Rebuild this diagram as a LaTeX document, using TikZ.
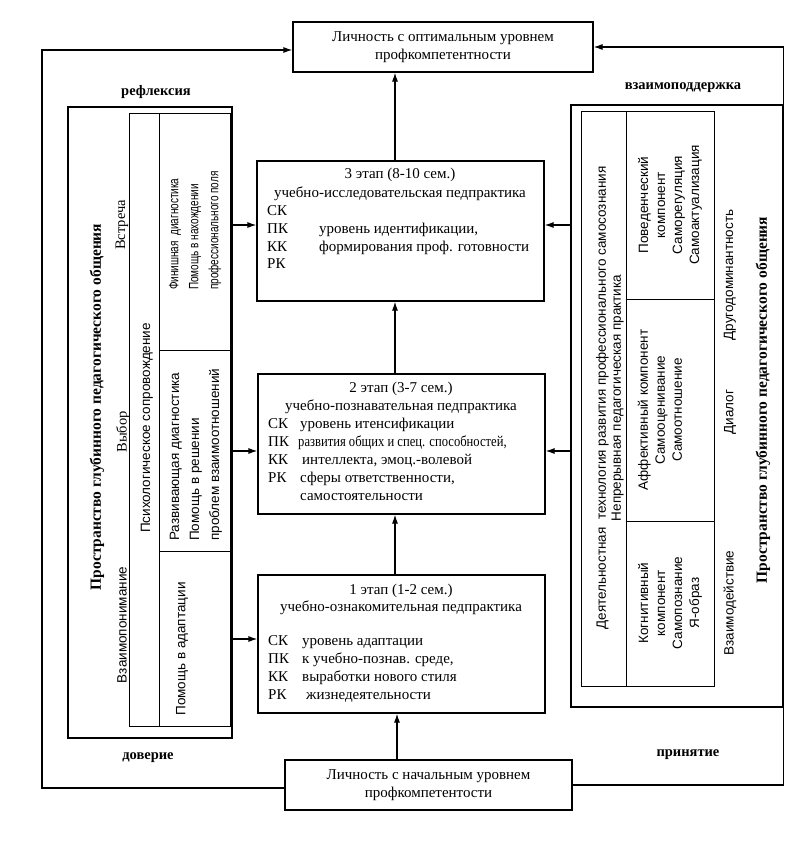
\documentclass[tikz,border=0pt]{standalone}
\usepackage{fontspec}
\setmainfont{Liberation Serif}
\setsansfont{Liberation Sans}
\usetikzlibrary{arrows.meta}
\begin{document}
\begin{tikzpicture}[x=1pt,y=-1pt,
  box/.style={draw, line width=1.2pt, inner sep=0pt},
  ln/.style={line width=1.2pt},
  thin/.style={line width=0.9pt},
  arr/.style={line width=1.2pt, -{Latex[length=9pt,width=6pt]}},
  st/.style={inner sep=0pt, font=\fontsize{15}{18}\selectfont},
  sf/.style={inner sep=0pt, font=\sffamily\fontsize{13.5}{17}\selectfont},
  sr/.style={inner sep=0pt, font=\fontsize{14.5}{17}\selectfont},
  lbl/.style={inner sep=0pt, font=\bfseries\fontsize{14.5}{17}\selectfont},
  bigl/.style={inner sep=0pt, font=\bfseries\fontsize{15.5}{18}\selectfont},
  vert/.style={rotate=90}]
\useasboundingbox[fill=white] (0,0) rectangle (800,847);

% ---- main boxes ----
\node[box, minimum width=300pt, minimum height=50pt, align=center, font=\fontsize{15}{18}\selectfont] (top) at (443,47)
  {Личность с оптимальным уровнем\\профкомпетентности};
\node[box, minimum width=287pt, minimum height=140pt] (s3) at (400.5,231) {};
\node[box, minimum width=287pt, minimum height=140pt] (s2) at (401.5,444) {};
\node[box, minimum width=287pt, minimum height=138pt] (s1) at (401.5,644) {};
\node[box, minimum width=287pt, minimum height=50pt, align=center, font=\fontsize{15}{18}\selectfont] (bot) at (428.5,785)
  {Личность с начальным уровнем\\профкомпетентости};

% ---- stage 3 text ----
\node[st, anchor=mid] (s3a) at (400,176) {3 этап (8-10 сем.)};
\node[st, anchor=mid] (s3b) at (400,195) {учебно-исследовательская педпрактика};
\node[st, anchor=mid west] (s3c) at (267,213) {СК};
\node[st, anchor=mid west] (s3d) at (267,231) {ПК};
\node[st, anchor=mid west] (s3e) at (319,231) {уровень идентификации,};
\node[st, anchor=mid west] (s3f) at (267,249) {КК};
\node[st, anchor=mid west] (s3g) at (319,249) {формирования проф. готовности};
\node[st, anchor=mid west] (s3h) at (267,266) {РК};

% ---- stage 2 text ----
\node[st, anchor=mid] (s2a) at (401,390) {2 этап (3-7 сем.)};
\node[st, anchor=mid] (s2b) at (401,408) {учебно-познавательная педпрактика};
\node[st, anchor=mid west] (s2c) at (268,426) {СК};
\node[st, anchor=mid west] (s2d) at (300,426) {уровень итенсификации};
\node[st, anchor=mid west] (s2e) at (268,444) {ПК};
\node[st, anchor=mid west] (s2f) at (298,444) {\scalebox{0.84}[1]{развития общих и спец. способностей,}};
\node[st, anchor=mid west] (s2g) at (268,462) {КК};
\node[st, anchor=mid west] (s2h) at (302,462) {интеллекта, эмоц.-волевой};
\node[st, anchor=mid west] (s2i) at (268,480) {РК};
\node[st, anchor=mid west] (s2j) at (300,480) {сферы ответственности,};
\node[st, anchor=mid west] (s2k) at (300,498) {самостоятельности};

% ---- stage 1 text ----
\node[st, anchor=mid] (s1a) at (401,592) {1 этап (1-2 сем.)};
\node[st, anchor=mid] (s1b) at (401,609) {учебно-ознакомительная педпрактика};
\node[st, anchor=mid west] (s1c) at (268,643) {СК};
\node[st, anchor=mid west] (s1d) at (302,643) {уровень адаптации};
\node[st, anchor=mid west] (s1e) at (268,661) {ПК};
\node[st, anchor=mid west] (s1f) at (302,661) {к учебно-познав. среде,};
\node[st, anchor=mid west] (s1g) at (268,679) {КК};
\node[st, anchor=mid west] (s1h) at (302,679) {выработки нового стиля};
\node[st, anchor=mid west] (s1i) at (268,697) {РК};
\node[st, anchor=mid west] (s1j) at (306,697) {жизнедеятельности};

% ---- left block ----
\node[box, minimum width=164pt, minimum height=631pt] (L) at (150,422.5) {};
\draw[thin] (129,113) rectangle (230,726);
\draw[thin] (159,113) -- (159,726);
\draw[thin] (159,350) -- (230,350);
\draw[thin] (159,551) -- (230,551);

\node[bigl, vert] (lspace) at (97,407) {Пространство глубинного педагогического общения};
\node[sr, vert] (lvs) at (122,225) {Встреча};
\node[sr, vert] (lvy) at (123,432) {Выбор};
\node[sf, vert] (lvz) at (122,625) {Взаимопонимание};
\node[sf, vert] (lps) at (147,428) {Психологическое сопровождение};
\node[sf, vert, anchor=west, align=left, font=\sffamily\fontsize{13.5}{20}\selectfont] (lc1) at (195,290)
  {\scalebox{0.74}[1]{Финишная\ \ диагностика}\\\scalebox{0.74}[1]{Помощь в нахождении}\\\scalebox{0.74}[1]{профессионального поля}};
\node[sf, vert, anchor=west, align=left, font=\sffamily\fontsize{13.5}{20}\selectfont] (lc2) at (196,541)
  {Развивающая диагностика\\Помощь в решении\\проблем взаимоотношений};
\node[sf, vert] (lc3) at (182,649) {Помощь в адаптации};

% ---- right block ----
\node[box, minimum width=212pt, minimum height=602pt] (R) at (677,406) {};
\draw[thin] (581,111) rectangle (714,686);
\draw[thin] (626,111) -- (626,686);
\draw[thin] (626,299) -- (714,299);
\draw[thin] (626,521) -- (714,521);

\node[sf, vert, align=center, font=\sffamily\fontsize{13.5}{15}\selectfont] (rc0) at (610,398)
  {Деятельностная\ \ технология развития профессионального самосознания\\Непрерывная педагогическая практика};
\node[sf, vert, align=center] (rc1) at (670,205) {Поведенческий\\компонент\\Саморегуляция\\Самоактуализация};
\node[sf, vert, align=center] (rc2) at (660,410) {Аффективный компонент\\Самооценивание\\Самоотношение};
\node[sf, vert, align=center] (rc3) at (670,603) {Когнитивный\\компонент\\Самопознание\\Я-образ};
\node[sf, vert] (rdr) at (730,275) {Другодоминантность};
\node[sf, vert] (rdi) at (730,412) {Диалог};
\node[sf, vert] (rvz) at (730,603) {Взаимодействие};
\node[bigl, vert] (rspace) at (763,400) {Пространство глубинного педагогического общения};

% ---- corner labels ----
\node[lbl] (refl) at (156,92) {рефлексия};
\node[lbl] (vzp) at (683,88) {взаимоподдержка};
\node[lbl] (dov) at (148,758) {доверие};
\node[lbl] (prin) at (688,755) {принятие};

% ---- connectors ----
\coordinate (vx) at (395,0);
\coordinate (vb) at (397,0);
\draw[arr] (s3.north -| vx) -- (top.south -| vx);
\draw[arr] (s2.north -| vx) -- (s3.south -| vx);
\draw[arr] (s1.north -| vx) -- (s2.south -| vx);
\draw[arr] (bot.north -| vb) -- (s1.south -| vb);

\coordinate (y3) at (0,225);
\coordinate (y2) at (0,451);
\coordinate (y1) at (0,639);
\draw[arr] (y3 -| L.east) -- (y3 -| s3.west);
\draw[arr] (y2 -| L.east) -- (y2 -| s2.west);
\draw[arr] (y1 -| L.east) -- (y1 -| s1.west);
\draw[arr] (y3 -| R.west) -- (y3 -| s3.east);
\draw[arr] (y2 -| R.west) -- (y2 -| s2.east);

\coordinate (lb) at (42,788);
\coordinate (lt) at (42,50);
\draw[arr] (bot.west |- lb) -- (lb) -- (lt) -- (lt -| top.west);
\coordinate (rb) at (R.east |- 0,785);
\coordinate (rt) at (R.east |- 0,47);
\draw[arr] (bot.east |- rb) -- (rb) -- (rt) -- (rt -| top.east);
\end{tikzpicture}
\end{document}
